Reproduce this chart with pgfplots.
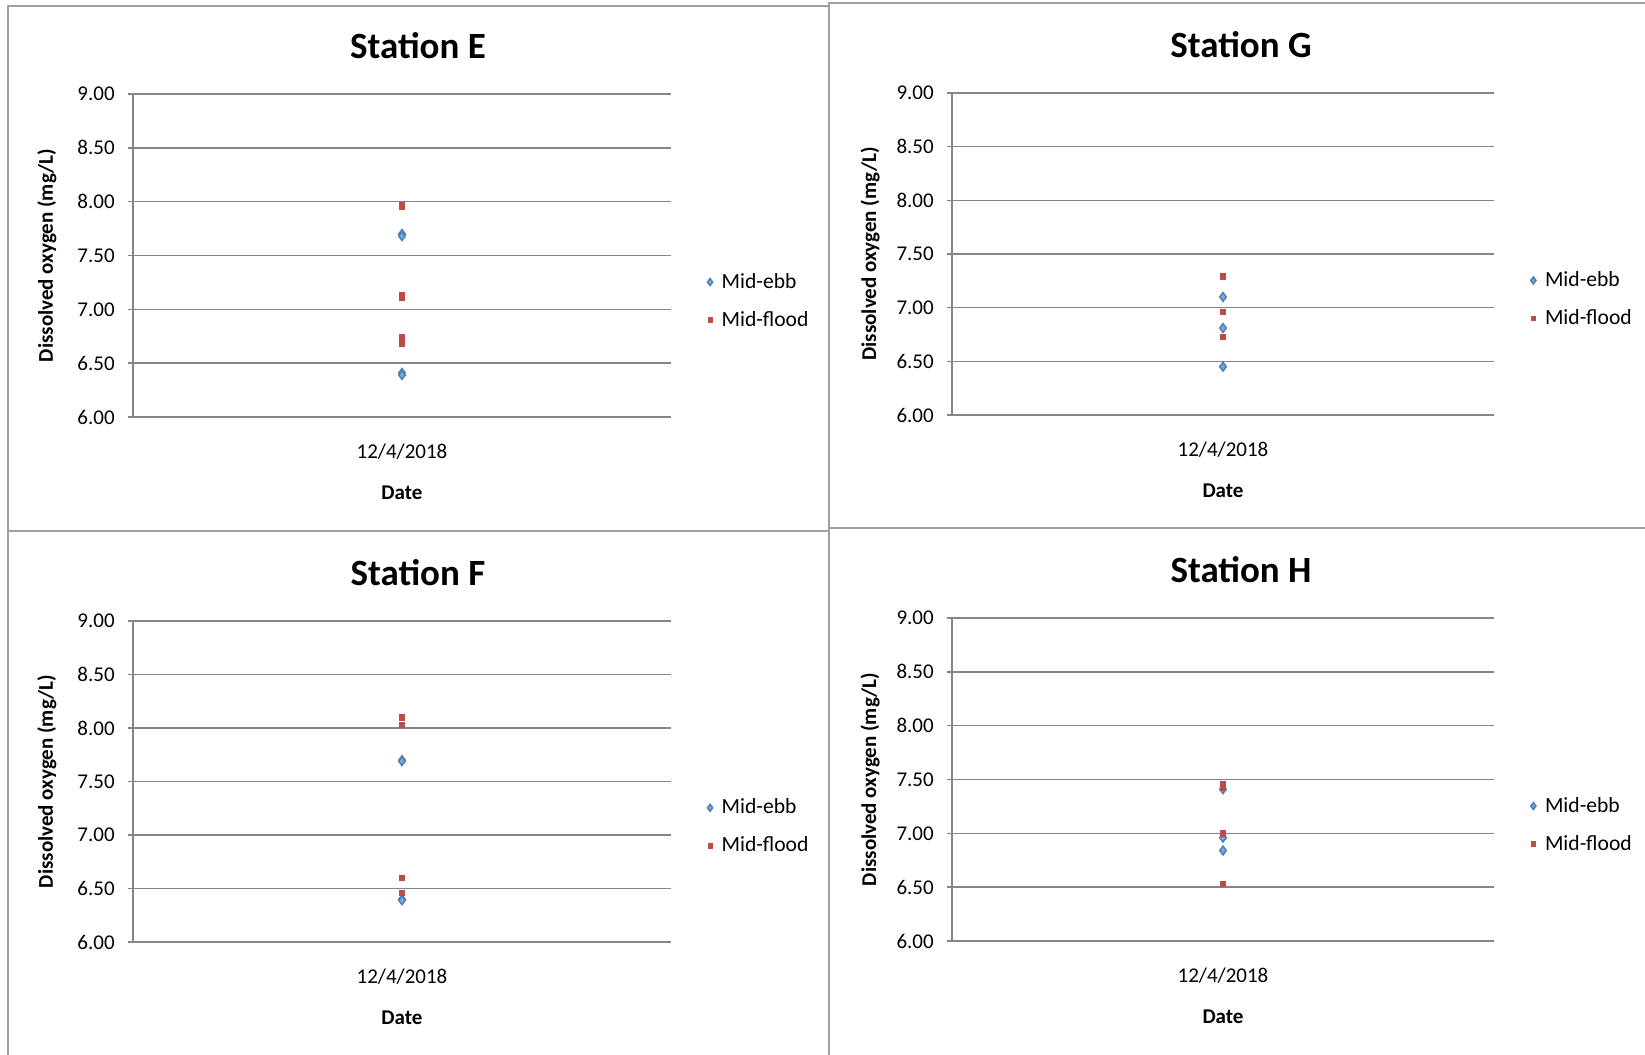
\documentclass[border=0pt]{standalone}
\usepackage{pgfplots}
\pgfplotsset{compat=1.18}
\usepackage{fontspec}
\setmainfont{Carlito}
\definecolor{ebb}{HTML}{4A7EBB}
\definecolor{flood}{HTML}{BE4B48}
\definecolor{gridgray}{HTML}{868686}
\definecolor{boxgray}{HTML}{A0A0A0}
\pgfplotsset{
  station/.style={
    scale only axis, width=269pt, height=161.5pt,
    xmin=-1, xmax=1, ymin=6, ymax=9,
    ytick={6,6.5,7,7.5,8,8.5,9},
    xtick={0}, xticklabels={12/4/2018},
    axis x line=bottom, axis y line=left,
    axis line style={-, draw=gridgray, line width=0.7pt},
    ymajorgrids, grid style={draw=gridgray, line width=0.7pt},
    major x tick style={draw=none},
    ytick style={draw=gridgray, line width=0.7pt},
    tick align=outside, major tick length=2.6pt,
    /pgf/number format/assume math mode=true,
    yticklabel style={/pgf/number format/fixed, /pgf/number format/fixed zerofill, /pgf/number format/precision=2, font=\fontsize{10.5}{12}\selectfont, xshift=-3pt},
    xticklabel style={anchor=center, yshift=-14.5pt, font=\fontsize{10.5}{12}\selectfont},
    xlabel={Date},
    xlabel style={at={(axis description cs:0.5,-0.236)}, anchor=center, font=\bfseries\fontsize{10.5}{12}\selectfont},
    ylabel={Dissolved oxygen (mg/L)},
    ylabel style={anchor=center, font=\bfseries\fontsize{10.5}{12}\selectfont},
    legend style={draw=none, fill=none, at={(axis description cs:1.067,0.359)}, anchor=west, inner sep=0pt, row sep=7pt, column sep=3pt, font=\fontsize{10.8}{12}\selectfont, nodes={inner sep=1.5pt}},
    legend cell align=left,
    legend image code/.code={\draw[#1, every mark/.append style={scale=0.8}] plot coordinates {(0pt,0pt)};},
    clip=false,
  },
  ebbs/.style={only marks, mark=diamond*, mark size=2.2pt, mark options={draw=ebb, fill=ebb!70, line width=0.7pt}},
  floods/.style={only marks, mark=square*, mark size=1.35pt, mark options={draw=flood, fill=flood}},
}
\begin{document}
\begin{tikzpicture}
\path[use as bounding box] (0,0) rectangle (822.5pt,-527.5pt);
% panel borders
\draw[boxgray, line width=1pt] (4pt,-3pt) rectangle (414.5pt,-265.5pt);
\draw[boxgray, line width=1pt] (414.5pt,-1.5pt) rectangle (826pt,-264pt);
\draw[boxgray, line width=1pt] (4pt,-265.5pt) rectangle (414.5pt,-530pt);
\draw[boxgray, line width=1pt] (414.5pt,-264pt) rectangle (826pt,-530pt);
% titles
\node[font=\bfseries\fontsize{18.5}{22}\selectfont] at (209pt,-23pt) {Station E};
\node[font=\bfseries\fontsize{18.5}{22}\selectfont] at (620.5pt,-22.5pt) {Station G};
\node[font=\bfseries\fontsize{18.5}{22}\selectfont] at (209pt,-286.5pt) {Station F};
\node[font=\bfseries\fontsize{18.5}{22}\selectfont] at (620.5pt,-285pt) {Station H};

% Station E
\begin{axis}[station, at={(66.5pt,-208.5pt)}, anchor=south west, width=269pt, height=161.5pt,
  ylabel style={at={(axis description cs:-0.160,0.5)}}]
\addplot[ebbs] coordinates {(0,7.70) (0,7.68) (0,6.41) (0,6.39)};
\addlegendentry{Mid-ebb}
\addplot[floods] coordinates {(0,7.97) (0,7.95) (0,7.13) (0,7.11) (0,6.74) (0,6.68)};
\addlegendentry{Mid-flood}
\end{axis}

% Station G
\begin{axis}[station, at={(476pt,-207.5pt)}, anchor=south west, width=271pt, height=161pt,
  ylabel style={at={(axis description cs:-0.151,0.5)}}]
\addplot[ebbs] coordinates {(0,7.10) (0,6.81) (0,6.45)};
\addlegendentry{Mid-ebb}
\addplot[floods] coordinates {(0,7.29) (0,6.96) (0,6.73)};
\addlegendentry{Mid-flood}
\end{axis}

% Station F
\begin{axis}[station, at={(66.5pt,-471pt)}, anchor=south west, width=269pt, height=160.5pt,
  ylabel style={at={(axis description cs:-0.160,0.5)}}]
\addplot[ebbs] coordinates {(0,7.70) (0,7.69) (0,6.40) (0,6.39)};
\addlegendentry{Mid-ebb}
\addplot[floods] coordinates {(0,8.10) (0,8.03) (0,6.60) (0,6.46)};
\addlegendentry{Mid-flood}
\end{axis}

% Station H
\begin{axis}[station, at={(476pt,-470.5pt)}, anchor=south west, width=271pt, height=161.5pt,
  ylabel style={at={(axis description cs:-0.151,0.5)}}]
\addplot[ebbs] coordinates {(0,7.41) (0,6.96) (0,6.84)};
\addlegendentry{Mid-ebb}
\addplot[floods] coordinates {(0,7.46) (0,7.42) (0,7.00) (0,6.53)};
\addlegendentry{Mid-flood}
\end{axis}
\end{tikzpicture}
\end{document}
